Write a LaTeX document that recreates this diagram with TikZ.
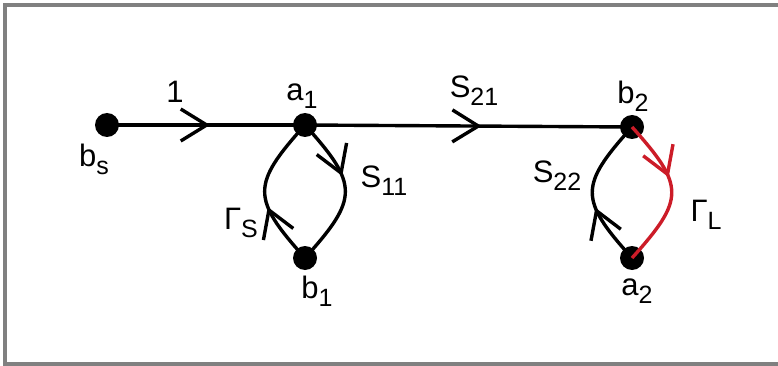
\documentclass[tikz,border=0pt]{standalone}
\usepackage{fontspec}
\setmainfont{Liberation Sans}
\usetikzlibrary{arrows.meta,decorations.markings}
\definecolor{loadred}{RGB}{204,28,40}
\definecolor{framegray}{RGB}{128,128,128}
\newcommand{\lbl}[2]{#1\raisebox{-8pt}{\fontsize{25}{25}\selectfont #2}}

\begin{document}
\begin{tikzpicture}[x=1pt,y=-1pt,
		dot/.style={circle,fill=black,inner sep=0pt,minimum size=24pt},
		txt/.style={inner sep=0pt,font=\fontsize{31}{33}\selectfont},
		branch/.style={line width=3.4pt},
		midarrow/.style={postaction={decorate},decoration={markings,
			mark=at position #1 with {\arrow[line width=3.4pt]{Straight Barb[length=26pt,width=32pt]}}}}
	]
	\useasboundingbox (0,0) rectangle (778,366);
	% frame
	\fill[framegray] (3,3) rectangle (778,7);
	\fill[framegray] (3,3) rectangle (7,366);
	\fill[framegray] (3,362) rectangle (778,366);

	\node[dot] (bs) at (107,125) {};
	\node[dot] (a1) at (305,125) {};
	\node[dot] (b1) at (305,258) {};
	\node[dot] (b2) at (632,127) {};
	\node[dot] (a2) at (632,258) {};

	\draw[branch,midarrow=0.52] (bs.center) -- (a1.center);
	\draw[branch,midarrow=0.54] (a1.center) -- (b2.center);
	\draw[branch,midarrow=0.4] (a1.center) to[out=-48,in=48,looseness=1.55] (b1.center);
	\draw[branch,midarrow=0.4] (b1.center) to[out=132,in=-132,looseness=1.55] (a1.center);
	\draw[branch,midarrow=0.4] (a2.center) to[out=132,in=-132,looseness=1.55] (b2.center);
	\draw[branch,loadred,midarrow=0.4] (b2.center) to[out=-48,in=48,looseness=1.55] (a2.center);

	% labels
	\node[txt] (one) at (175,92) {1};
	\node[txt] (la1) at (302,96) {\lbl{a}{1}};
	\node[txt] (lbs) at (94,159) {\lbl{b}{s}};
	\node[txt] (ls21) at (474,91) {\lbl{S}{21}};
	\node[txt] (lb2) at (633,96) {\lbl{b}{2}};
	\node[txt] (ls11) at (384,181) {\lbl{S}{11}};
	\node[txt] (lgs) at (241,223) {\lbl{Γ}{S}};
	\node[txt] (lb1) at (317,291) {\lbl{b}{1}};
	\node[txt] (ls22) at (557,176) {\lbl{S}{22}};
	\node[txt] (lgl) at (706,215) {\lbl{Γ}{L}};
	\node[txt] (la2) at (637,291) {\lbl{a}{2}};
\end{tikzpicture}
\end{document}
